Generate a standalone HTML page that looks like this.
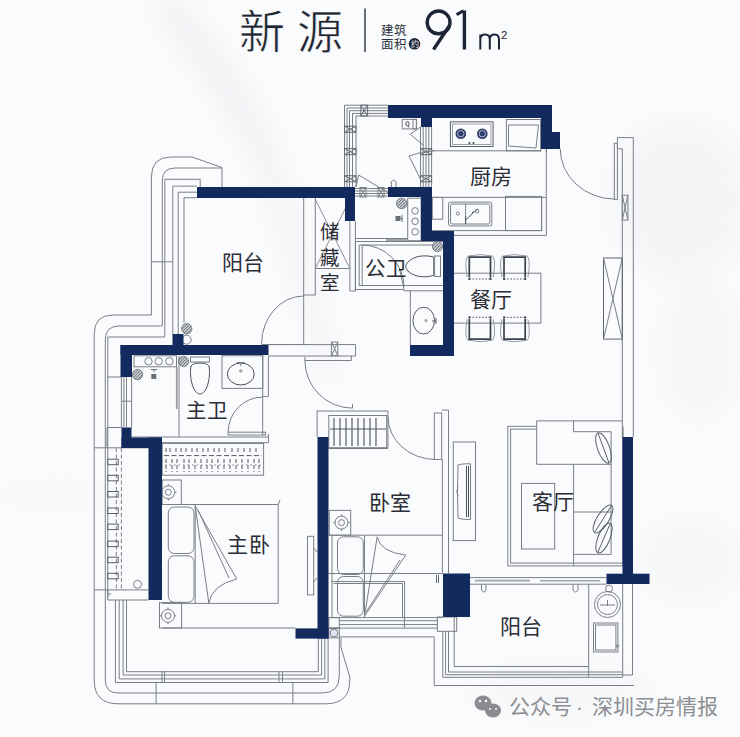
<!DOCTYPE html>
<html lang="zh-CN"><head><meta charset="utf-8">
<style>
html,body{margin:0;padding:0;background:#fafbfc;}
body{width:740px;height:737px;overflow:hidden;position:relative;}
svg{position:absolute;left:0;top:0;display:block;}
.t{font-family:"Liberation Sans",sans-serif;fill:#2a2d36;}
</style></head><body>
<svg width="740" height="737" viewBox="0 0 740 737">
<defs>
<radialGradient id="g1" cx="0.5" cy="0.5" r="0.5"><stop offset="0" stop-color="#e4e6ea" stop-opacity="0.7"/><stop offset="1" stop-color="#e4e6ea" stop-opacity="0"/></radialGradient>
<pattern id="hatch" width="2.2" height="2.2" patternUnits="userSpaceOnUse" patternTransform="rotate(45)"><rect width="2.2" height="2.2" fill="#d8dade"/><rect width="1" height="2.2" fill="#70747e"/></pattern>
<filter id="blur" x="-50%" y="-50%" width="200%" height="200%"><feGaussianBlur stdDeviation="12"/></filter>
</defs>
<rect x="0" y="0" width="740" height="737" fill="#fafbfc"/>
<g filter="url(#blur)" opacity="0.4">
<path d="M150,0 C185,60 240,120 265,190 C290,260 305,320 325,380 L337,380 C318,300 300,220 276,150 C250,85 215,35 180,0 Z" fill="#e3e5ea"/>
<ellipse cx="680" cy="200" rx="70" ry="80" fill="#eaecef"/>
<ellipse cx="700" cy="350" rx="40" ry="70" fill="#eef0f2"/>
<ellipse cx="60" cy="495" rx="70" ry="8" fill="#f0f1f3"/>
<ellipse cx="690" cy="560" rx="50" ry="40" fill="#eef0f2"/>
<ellipse cx="560" cy="690" rx="90" ry="25" fill="#eef0f2"/>
</g>
<!-- LINES -->
<g fill="none" stroke="#7a7e87" stroke-width="1">
<!-- upper-left balcony outlines -->
<path d="M151.4,315 V177 Q151.4,157 171,157 H192 L222,167.5 V187"/>
<path d="M162.3,326 V181 Q162.3,168 175,168 H222"/>
<path d="M164.8,335 V179.3 H200.2 V187"/>
<path d="M172.8,334 V186.1 H197"/>
<path d="M178.2,334 V192.2 H197"/>
<path d="M184,323 V197.7 H197"/>
<path d="M151.4,261.8 H172.8"/>
<!-- left lower balcony outlines -->
<path d="M151.4,315 H113 Q94.2,315 94.2,334 V680 Q94.2,703.8 118,703.8 H326 Q349.8,703.8 349.8,680 V677 L341,647.5 V638"/>
<path d="M162.3,326 H119 Q105.3,326 105.3,340 V680 Q105.3,693 118,693 H322 Q339.3,693 339.3,676 V638"/>
<path d="M164.8,335 V337 H107.8 V600 H148.5"/>
<path d="M107.8,377 H121"/>
<path d="M94.2,447.8 H148.5"/>
<path d="M94.2,589.9 H148.5"/>
<path d="M107,427.5 H121.5 M107,427.5 V447.8"/>
<path d="M121.4,377 V427.5 M123.9,377 V427.5 M126.5,377 V427.5 M131.6,377 V427.5 M121.4,401.2 H131.6"/>
<path d="M116.3,448 V590 M121.4,448 V590" stroke-dasharray="4,2.5"/>
<g stroke="#5a5e68">
<rect x="107.6" y="459.2" width="10.6" height="5.5"/><rect x="107.6" y="475.3" width="10.6" height="5.5"/>
<rect x="107.6" y="491.5" width="10.6" height="5.5"/><rect x="107.6" y="508.0" width="10.6" height="5.5"/>
<rect x="107.6" y="524.1" width="10.6" height="5.5"/><rect x="107.6" y="541.1" width="10.6" height="5.5"/>
<rect x="107.6" y="557.2" width="10.6" height="5.5"/><rect x="107.6" y="573.3" width="10.6" height="5.5"/>
</g>
<path d="M107.8,590 V598 M107.8,594 H111"/>
<circle cx="137.5" cy="584.3" r="4"/>
<path d="M115.4,600 V682.5 H328.1 V638.6"/>
<path d="M119.2,600 V678.9 H324.8 V638.6"/>
<path d="M123.1,600 V675 H321.6 V638.6"/>
<path d="M126.5,600 V671.7 H318.3 V638.6"/>
<path d="M156.1,682.5 V703.8 M292.9,682.2 V704.4"/>
<path d="M162,671.7 V682.5 M164.6,671.7 V682.5 M279,671.7 V682.5 M282.5,671.7 V682.5"/>
</g>
<g fill="none" stroke="#7a7e87" stroke-width="1">
<!-- laundry window frame -->
<path d="M344.5,187 V105.2 H388"/>
<path d="M347,187 V108 H388"/>
<path d="M349.5,187 V110.7 H388"/>
<path d="M352.5,187 V113.4 H388"/>
<path d="M356,187 V116 H388"/>
<g stroke="#666a74">
<rect x="360.8" y="105.2" width="6.8" height="10.8"/><path d="M360.8,105.2 L367.6,116 M367.6,105.2 L360.8,116"/>
<rect x="344.5" y="126.2" width="11.5" height="6.1"/><path d="M344.5,126.2 L356,132.3 M356,126.2 L344.5,132.3"/>
<rect x="344.5" y="148.6" width="11.5" height="6.1"/><path d="M344.5,148.6 L356,154.7 M356,148.6 L344.5,154.7"/>
<rect x="344.5" y="175.7" width="11.5" height="6.1"/><path d="M344.5,175.7 L356,181.8 M356,175.7 L344.5,181.8"/>
</g>
<!-- laundry bottom window -->
<path d="M355,188.5 H388 M355,191 H388 M355,193.5 H388 M355,196 H388"/>
<rect x="360" y="187.5" width="6" height="9.5"/><path d="M360,187.5 L366,197 M366,187.5 L360,197"/>
<rect x="378" y="187.5" width="6" height="9.5"/><path d="M378,187.5 L384,197 M384,187.5 L378,197"/>
<path d="M358.7,175 L388,192.7 M358.7,175 L356,187"/>
<path d="M391.3,187 V181.5 Q393.6,178.5 396,181.5 V187"/>
<!-- laundry right window -->
<path d="M420.5,127 V187 M423.2,127 V187 M426,127 V187 M428.8,127 V187 M431.6,127 V187"/>
<g stroke="#666a74"><rect x="420.5" y="148.6" width="11.1" height="6.1"/><path d="M420.5,148.6 L431.6,154.7 M431.6,148.6 L420.5,154.7"/>
<rect x="420.5" y="175.7" width="11.1" height="6.1"/><path d="M420.5,175.7 L431.6,181.8 M431.6,175.7 L420.5,181.8"/></g>
<path d="M420.5,127 L410.3,134.3 L423.2,145.2"/>
<path d="M434.7,150.6 Q420,151.5 409,156 L421.8,181.8"/>
<rect x="402.2" y="119.4" width="14.2" height="9.5"/>
<rect x="413" y="119.4" width="3.4" height="9.5"/>
<ellipse cx="407.5" cy="123.8" rx="1.6" ry="2.2" stroke="#4a4e58"/><path d="M408,126 L409,127.5" stroke="#4a4e58"/>
<!-- storage / corridor -->
<path d="M303.7,198 V344"/>
<path d="M315.3,198 V295 H303.7"/>
<path d="M349.9,221 V291 M355.4,221 V291 M349.9,291 H355.4"/>
<path d="M315.3,268.5 H349.9"/>
<path d="M315.3,199.3 L349.9,268.5 M349.9,199.3 L315.3,268.5" stroke="#8a8e96"/>
<!-- corridor door arc -->
<path d="M261.6,344 A42.2,48 0 0 1 303.8,296"/>
<path d="M261.6,344.5 H309"/>
<!-- window below storage -->
<path d="M268.5,344.6 H355.6 V356 H268.5"/>
<rect x="331.4" y="342" width="6.4" height="13.7"/><path d="M331.4,342 L337.8,355.7 M337.8,342 L331.4,355.7"/>
<path d="M351.3,355.7 V360.5 H304.9 V356.9"/>
<path d="M304.9,360.5 A47.6,47.6 0 0 0 352.5,408.1"/>
<path d="M352.5,408.1 V404"/>
<!-- laundry items -->
<rect x="407.7" y="198.2" width="13.4" height="42.5"/>
<circle cx="415.1" cy="210.9" r="3.3"/><circle cx="415.1" cy="221.3" r="3.3"/><circle cx="415.1" cy="231.8" r="3.3"/>
<path d="M355.4,238.5 H407.7 M355.4,241.5 H443"/>
<path d="M386,240 H407" stroke="#a0a3aa" stroke-width="2"/>
</g>
<g fill="none" stroke="#7a7e87" stroke-width="1">
<!-- public bath -->
<path d="M355.4,241.5 V291 M359.2,245 V286 M362.2,245 V286"/>
<path d="M359.2,245 H437 M359.2,285.5 H443 M355.4,289.5 H403.8 V290.8 H443"/>
<path d="M362.2,245 A42,42 0 0 1 404,287"/>
<path d="M399.5,269 L404,289"/>
<path d="M433.5,257 C424,254.5 414,256 408,262 C405,265 405,268 408,271 C414,277 424,278 433.5,275.5 Z" stroke="#4a4e58"/>
<rect x="434.6" y="256" width="5.9" height="20.5"/>
<path d="M433.5,257 V275.5"/>
<path d="M410.3,290.8 V345"/>
<ellipse cx="423.7" cy="320.6" rx="10.8" ry="13.4" stroke="#555963"/>
<circle cx="426" cy="320.6" r="1"/>
<path d="M436,318 V324 M436,321 H432" stroke="#555963"/>
<!-- kitchen -->
<path d="M432.3,150.8 H541.6"/>
<path d="M432.3,197.4 H546.3"/>
<path d="M546.3,149 V235.4 H454"/>
<path d="M432.3,230.6 H541.6 M541.6,196.4 V230.6"/>
<rect x="450.4" y="121.8" width="42.7" height="24.7" stroke="#5a5e68"/>
<rect x="452.5" y="124" width="38.5" height="20.5" stroke="#9a9ea6"/>
<rect x="506.4" y="119.5" width="34.2" height="31.3"/>
<path d="M508.5,125 H538.5 L536,148 L508.5,146 Z"/>
<rect x="448.5" y="202.1" width="43.3" height="23.8" rx="2"/>
<rect x="450.5" y="204" width="39.3" height="20" rx="1.5"/>
<path d="M465.6,204 V224"/>
<circle cx="457.8" cy="213.5" r="1.6"/>
<path d="M465.6,224 V216 M465.6,220 L474,212 M472,213 L478,209" stroke="#4a4e58"/>
<circle cx="477" cy="211" r="1.8"/>
<rect x="505.5" y="196.4" width="36.1" height="34.2"/>
<rect x="432.3" y="197.4" width="10.5" height="21.8"/>
<!-- dining -->
<rect x="453.4" y="273.2" width="87.5" height="49.9"/>
</g>
<g fill="#2f3d6e"><circle cx="460.8" cy="133.7" r="5.3"/><circle cx="482.3" cy="133.7" r="5.3"/></g>
<g fill="none" stroke="#d0d4e0" stroke-width="0.8"><circle cx="460.8" cy="133.7" r="3.2"/><circle cx="482.3" cy="133.7" r="3.2"/></g>
<g fill="#3a3e48"><circle cx="469.5" cy="143" r="1"/><circle cx="473.5" cy="143" r="1"/></g>
<defs><g id="chair">
<path d="M467.2,277 C465.2,266 465.4,259 468,256 Q480.2,253.2 492.4,256 C495,259 495.2,266 493.2,277" fill="none" stroke="#8a8e98" stroke-width="0.9"/>
<path d="M469.3,277.6 V257.2 H490.5 V277.6" fill="none" stroke="#3d4150" stroke-width="1.7"/>
<path d="M469.3,279 H490.5" fill="none" stroke="#55596a" stroke-width="1" stroke-dasharray="1.6,1.6"/>
<rect x="468.4" y="278" width="1.9" height="1.9" fill="#3d4150"/><rect x="489.6" y="278" width="1.9" height="1.9" fill="#3d4150"/>
</g></defs>
<use href="#chair"/>
<use href="#chair" transform="translate(34.7,0)"/>
<use href="#chair" transform="translate(0,596.3) scale(1,-1)"/>
<use href="#chair" transform="translate(34.7,596.3) scale(1,-1)"/>
<g fill="url(#hatch)" stroke="#6a6e78" stroke-width="0.8">
<circle cx="401.7" cy="203.4" r="5.3"/>
<circle cx="437.5" cy="246.4" r="5.2"/>
<circle cx="186.7" cy="328.7" r="5.2"/>
<circle cx="183.5" cy="361.4" r="5.2"/>
<circle cx="137.5" cy="374.5" r="5.2"/>
</g>
<rect x="395.5" y="216" width="5" height="5" fill="#6a6e78"/>
<rect x="151.3" y="374" width="5" height="5" fill="#6a6e78"/><path d="M151,369.5 H157 M154,369.5 V372" stroke="#6a6e78" fill="none"/>
<path d="M402,215 V222 M400.5,218.5 H403" stroke="#6a6e78" fill="none"/>
<g fill="none" stroke="#7a7e87" stroke-width="1">
<circle cx="186.7" cy="339.7" r="4.5"/>
<!-- master bath -->
<rect x="134" y="355.8" width="42.5" height="11"/>
<circle cx="148.5" cy="361.3" r="3.7"/><circle cx="158.7" cy="361.3" r="3.7"/><circle cx="169.4" cy="361.3" r="3.7"/>
<path d="M179,355.7 V437"/><path d="M176.8,367 V409" stroke="#9a9ca2" stroke-width="1.8"/>
<rect x="190.5" y="357" width="19" height="5"/>
<path d="M191,366 C189,377 193,394 200,394 C207,394 211,377 209,366 C207,362 193,362 191,366 Z" stroke="#4a4e58"/>
<rect x="222" y="355.7" width="40.8" height="32.7"/>
<ellipse cx="240.8" cy="374" rx="13.4" ry="11" stroke="#4a4e58"/>
<circle cx="240.8" cy="371" r="1.2"/>
<path d="M237,362.5 H244.5 M240.8,362.5 V366"/>
<path d="M262.7,355.7 V435 M268.4,355.7 V396.6 H262.7"/>
<path d="M228.1,432.2 A34.6,35.1 0 0 1 262.7,397.1"/>
<rect x="228.1" y="432.2" width="37.5" height="2.8"/>
<path d="M132,437 H268.4 M162,442.7 H268.4 V434"/>
<!-- master wardrobe -->
<rect x="162.2" y="443.4" width="101.4" height="31.8"/>
<path d="M165,465 H262" stroke-dasharray="1.5,3"/>
<path d="M164,455.6 H262" stroke="#555963" stroke-dasharray="5,2.5"/>
<path d="M166,448 V452 M170,448 V452 M176,448 V452 M181,448 V452 M186,448 V452 M192,448 V452 M197,448 V452 M203,448 V452 M208,448 V452 M214,448 V452 M219,448 V452 M225,448 V452 M232,448 V452 M238,448 V452 M244,448 V452 M250,448 V452 M256,448 V452
M166,459 V472 M172,459 V472 M177,459 V472 M184,459 V472 M189,459 V472 M195,459 V472 M201,459 V472 M207,459 V472 M212,459 V472 M218,459 V472 M224,459 V472 M230,459 V472 M236,459 V472 M242,459 V472 M248,459 V472 M254,459 V472 M259,459 V472" stroke="#555963" stroke-dasharray="4,2"/>
<!-- master bedroom furniture -->
<rect x="162.2" y="480" width="19.1" height="24.5"/>
<circle cx="168.3" cy="492.3" r="6.5"/><circle cx="168.3" cy="492.3" r="3"/>
<path d="M168.3,484 V486 M168.3,498.6 V500.6 M160,492.3 H162 M174.6,492.3 H176.6"/>
<rect x="159.5" y="602.6" width="22.1" height="25.4"/>
<circle cx="168" cy="615.8" r="6.5"/><circle cx="168" cy="615.8" r="3"/>
<path d="M168,607.5 V609.5 M168,622 V624 M159.7,615.8 H161.7 M174.3,615.8 H176.3"/>
<path d="M162,504.5 H278.2 V603.4 H162 M195.2,504.5 V603.4 M278.2,504.5 L280,500"/>
<rect x="168.3" y="507" width="25.7" height="46.5" rx="6"/>
<rect x="168.3" y="555.8" width="25.7" height="46.5" rx="6"/>
<path d="M195.2,506 L208.8,603 M195.2,506 L236.7,579 M198,510 L229,578 M208.8,603 Q212,585 236.7,579"/>
<path d="M162,628 H295.5"/>
<rect x="307.5" y="536.3" width="6.2" height="58.6"/>
<path d="M313.7,548 L317,552 M313.7,582 L317,578"/>
</g>
<g fill="none" stroke="#7a7e87" stroke-width="1">
<!-- bedroom 2 closet -->
<path d="M316.6,411 H387.9 V448.5 H328.3 M317.1,411 V437"/>
<rect x="328.8" y="415.5" width="57.9" height="32.2"/>
<path d="M330,429 H386" stroke="#555963"/>
<path d="M334,418 V446 M340,418 V446 M346,418 V446 M352,418 V446 M358,418 V446 M364,418 V446 M370,418 V446 M376,418 V446" stroke="#4e525c" stroke-width="1.1"/>
<path d="M388,416.7 A47.6,42.8 0 0 0 435.6,459.5"/>
<rect x="434.3" y="413" width="7.4" height="46.5"/>
<path d="M441.7,410.1 H448.5 V573.5 M442.4,459.5 V573.5"/>
<!-- bedroom 2 furniture -->
<rect x="329.3" y="510.4" width="21.4" height="24.8"/>
<circle cx="341.5" cy="522.6" r="6.5"/><circle cx="341.5" cy="522.6" r="3"/>
<path d="M341.5,514.3 V516.3 M341.5,528.9 V530.9 M333.2,522.6 H335.2 M347.8,522.6 H349.8"/>
<path d="M328.3,535.2 H442.4 M328.3,573.5 H442.4"/>
<path d="M332,535.2 V617.5 M364.5,535.2 V617.5"/>
<rect x="337.5" y="536.8" width="25.8" height="37.7" rx="6"/>
<rect x="337.5" y="576.5" width="25.8" height="39.7" rx="6"/>
<path d="M331.4,581.6 H404.6 V617.5 M333.5,583.5 H402.5 V617.5"/>
<path d="M364.5,616.2 L377.2,536.8 M364.5,616.2 L405.7,555.1 M366,612 L400,560 M377.2,536.8 Q380,552 405.7,555.1"/>
<path d="M328.8,617.6 H443 M339.3,620.7 H437.4 M339.3,624.6 H437.4 M328.8,628.1 H437.4"/>
<rect x="328.8" y="617.6" width="10.5" height="10.5"/>
<rect x="328.8" y="628.1" width="10.5" height="9.7"/>
<circle cx="334" cy="633" r="4" fill="#dde3f0"/>
<path d="M404.4,617.6 V628.1"/>
<path d="M339.3,636.9 H434.2 V685.5 H634"/>
<rect x="437.4" y="617" width="19.3" height="14.3"/>
<path d="M436.5,575 V583 M438.5,575 V583" stroke="#6a6e78"/>
<!-- TV stand -->
<rect x="453.3" y="442" width="22.2" height="98.6"/>
<path d="M458,465 Q462,463.8 465.8,463.8 H470.5 V519.4 H465.8 Q462,519.4 458,518 Q457,491.6 458,465 Z"/>
<path d="M466.5,466 V517 M468.5,466 V517" stroke="#4a4e58"/>
<path d="M458,487 Q455.6,491.6 458,496"/>
<!-- living -->
<rect x="507.8" y="426.3" width="115.1" height="139.6"/>
<rect x="510.6" y="429.1" width="112.3" height="134"/>
<path d="M536.7,420.9 H622.3 V431.7 H611.1 V554.4 H573.6 V464.3 H536.7 Z" fill="#fafbfc" stroke="none"/>
<path d="M536.7,420.9 H622.3 M536.7,420.9 V464.3 H611.1 M573.6,420.9 V431.7 H611.1 V554.4 H573.6 M573.6,464.3 V565.9 M573.6,512 H611.1"/>
<rect x="521.5" y="483.4" width="33.2" height="65.6"/>
<g stroke="#5a5e68">
<ellipse cx="603.5" cy="448" rx="6" ry="16" transform="rotate(-20 603.5 448)"/><path d="M598,433 L609,463"/>
<ellipse cx="603" cy="519" rx="6" ry="16" transform="rotate(32 603 519)"/><path d="M611.5,505.5 L594.5,532.5"/>
<ellipse cx="604" cy="538" rx="6" ry="16" transform="rotate(22 604 538)"/><path d="M610.5,523 L597.5,553"/>
</g>
<!-- right exterior -->
<path d="M617.4,148.8 V137.6 H633.3 V437"/>
<path d="M622.3,148.8 H617.4 M622.3,148.8 V437"/>
<rect x="614.3" y="143.2" width="3.1" height="56.2"/>
<path d="M560.2,148.6 A54.7,50.5 0 0 0 614.9,199.1"/>
<rect x="622.3" y="195.2" width="5.6" height="24.9"/>
<path d="M622.3,195.2 L627.9,220.1 M627.9,195.2 L622.3,220.1"/>
<rect x="603.5" y="258" width="18.8" height="81.1" stroke="#5f636d"/>
<path d="M603.5,258 L622.3,339.1 M622.3,258 L603.5,339.1"/>
<path d="M546.3,149 V152"/>
<!-- sliding door / living-balcony -->
<path d="M469.6,577.6 H606.5 M469.6,584.2 H606.5"/>
<path d="M475,580.6 H530 M540,580.8 H600" stroke="#a0a3aa" stroke-width="1.6"/>
<path d="M481.5,584.2 V590 Q483.8,594 486,590 V584.2 M573,584.2 V590 Q575.5,594 578,590 V584.2"/>
<!-- bottom balcony -->
<path d="M442.8,631.3 V677.3 H622.7 M445.6,631.3 V674.7 H622.7 M448.5,631.3 V672 H622.7"/>
<path d="M454.2,617 V666.5 H588.7 V584"/>
<path d="M622.7,584 V677.3 M632.5,584 V675 M622.7,675 H632.5"/>
<path d="M588.7,666.5 V677"/>
<circle cx="607.5" cy="604.5" r="13"/>
<circle cx="607.5" cy="604.5" r="10"/>
<path d="M600,605 H615 M607.5,600 V606"/>
<circle cx="609" cy="588.5" r="3.5"/>
<rect x="593.5" y="623" width="24.4" height="29"/>
<rect x="595.5" y="625" width="20.4" height="25"/>
<circle cx="617.5" cy="646" r="1.3"/>
</g>
<!-- WALLS -->
<g fill="#122a5e">
<rect x="388" y="105" width="164" height="13"/>
<rect x="541" y="105" width="11" height="44"/>
<rect x="541" y="132" width="19" height="17"/>
<rect x="421" y="105" width="11" height="22"/>
<rect x="197" y="187" width="158" height="11"/>
<rect x="345" y="187" width="10" height="34"/>
<rect x="388" y="187" width="44" height="10"/>
<rect x="421" y="187" width="11" height="54"/>
<rect x="421" y="231" width="33" height="10"/>
<rect x="443" y="231" width="11" height="125"/>
<rect x="410" y="345" width="44" height="11"/>
<rect x="120.5" y="345" width="148" height="10"/>
<rect x="172.5" y="334" width="11" height="11"/>
<rect x="120.5" y="345" width="11.5" height="32"/>
<rect x="121.5" y="427.5" width="10" height="20.5"/>
<rect x="121.5" y="437.5" width="40.5" height="10.5"/>
<rect x="148.5" y="437.5" width="13.5" height="162.5"/>
<rect x="317.5" y="437" width="11" height="201.5"/>
<rect x="295.5" y="628.4" width="33" height="10.2"/>
<rect x="622.5" y="437" width="10.5" height="147"/>
<rect x="606.5" y="573.7" width="43" height="10.3"/>
<rect x="443" y="573.5" width="27" height="43.5"/>
</g>
<!-- HEADER -->
<text x="239" y="48" font-family="Liberation Serif, serif" font-size="46" fill="#1e2430" stroke="#fafbfc" stroke-width="0.7" letter-spacing="12">新源</text>
<rect x="364.3" y="8.5" width="1.4" height="43.5" fill="#2a3040"/>
<g font-family="Liberation Sans, sans-serif" font-size="12.5" font-weight="500" fill="#2a3040">
<text x="380.8" y="35">建筑</text>
<text x="380.8" y="49">面积</text>
</g>
<circle cx="414.5" cy="43.8" r="5.8" fill="#1e2638"/>
<text x="414.5" y="47" font-family="Liberation Sans, sans-serif" font-size="8" fill="#fff" text-anchor="middle">约</text>
<g fill="none" stroke="#1c2536" stroke-width="3.4" stroke-linecap="butt">
<circle cx="438.6" cy="22.4" r="11.4"/>
<path d="M449.6,25.5 L433.5,49.5"/>
<path d="M464.4,10.5 V49.5"/>
<path d="M456.6,14.6 L463.5,10.8" stroke-width="3"/>
</g>
<path d="M480.3,34.5 V49.4 M480.3,39.5 C480.3,36 482.8,34.6 485.3,34.6 C488.3,34.6 489.8,36.4 489.8,39.8 V49.4 M489.8,39.5 C489.8,36 492.3,34.6 494.8,34.6 C497.8,34.6 499,36.4 499,39.8 V49.4" fill="none" stroke="#1c2536" stroke-width="2"/>
<text x="501" y="38.6" font-family="Liberation Sans, sans-serif" font-size="11.5" fill="#1c2536">2</text>
<!-- WATERMARK -->
<g fill="#8a8c90">
<ellipse cx="483" cy="703" rx="8.5" ry="7.5"/>
<ellipse cx="493" cy="710.5" rx="8" ry="7"/>
</g>
<g fill="#f4f4f4"><circle cx="480" cy="701" r="1.3"/><circle cx="486" cy="701" r="1.3"/><circle cx="490" cy="709" r="1.1"/><circle cx="496" cy="709" r="1.1"/></g>
<g font-family="Liberation Sans, sans-serif" font-size="21" fill="#8c8e92">
<text x="508.5" y="714.3">公众号</text>
<text x="579.4" y="714.3" text-anchor="middle">·</text>
<text x="592" y="714.3">深圳买房情报</text>
</g>
<!-- TEXT -->
<g class="t" text-anchor="middle">
<text x="232.25" y="269.8" font-size="21">阳</text>
<text x="253.50" y="269.8" font-size="21">台</text>
<text x="374.70" y="276.0" font-size="20.5">公</text>
<text x="396.40" y="276.0" font-size="20.5">卫</text>
<text x="480.45" y="184.0" font-size="21">厨</text>
<text x="501.45" y="184.0" font-size="21">房</text>
<text x="480.35" y="306.7" font-size="21">餐</text>
<text x="501.95" y="306.7" font-size="21">厅</text>
<text x="196.25" y="417.5" font-size="20.5">主</text>
<text x="217.30" y="417.5" font-size="20.5">卫</text>
<text x="237.50" y="552.1" font-size="21">主</text>
<text x="259.10" y="552.1" font-size="21">卧</text>
<text x="379.20" y="509.5" font-size="21">卧</text>
<text x="400.25" y="509.5" font-size="21">室</text>
<text x="542.05" y="509.1" font-size="21">客</text>
<text x="563.75" y="509.1" font-size="21">厅</text>
<text x="510.50" y="634.1" font-size="21">阳</text>
<text x="531.65" y="634.1" font-size="21">台</text>
<text x="330.10" y="238.9" font-size="19.5">储</text>
<text x="330.10" y="264.5" font-size="19.5">藏</text>
<text x="330.10" y="290.0" font-size="19.5">室</text>
</g>
</svg>
</body></html>
